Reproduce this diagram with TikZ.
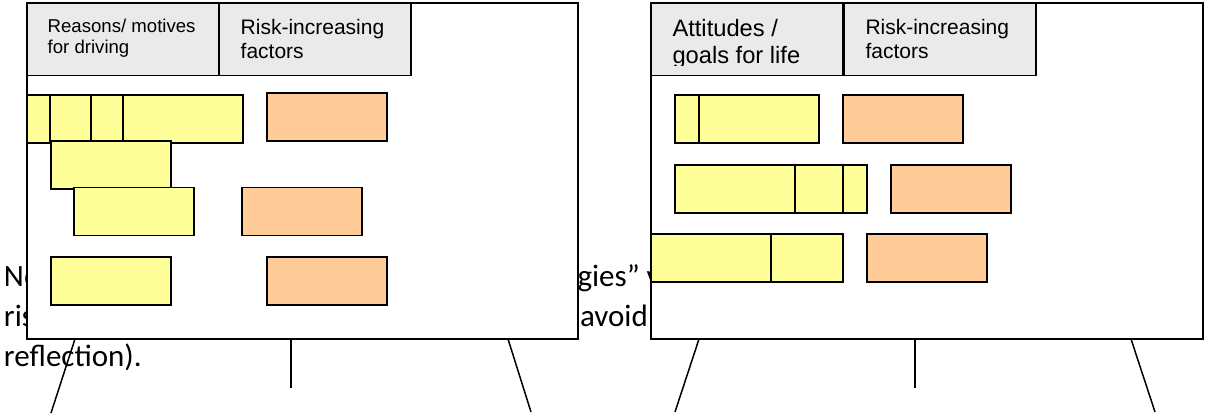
\documentclass[tikz,border=0pt]{standalone}
\usepackage{fontspec}
\setmainfont{Liberation Sans}
\newfontfamily\bodyfont{Carlito}
\definecolor{notefill}{HTML}{FFFF99}
\definecolor{riskfill}{HTML}{FFCC99}
\definecolor{headfill}{HTML}{EAEAEA}
\begin{document}
\begin{tikzpicture}[x=1pt,y=-1pt,
  frame/.style={draw=black,line width=1.7pt,inner sep=0pt,outer sep=0pt,anchor=north west},
  board/.style={frame,fill=white},
  headcell/.style={frame,fill=headfill,minimum width=192pt,minimum height=72.2pt},
  card/.style={frame,minimum width=120pt,minimum height=48pt},
  note/.style={card,fill=notefill},
  risk/.style={card,fill=riskfill},
  leg/.style={draw=black,line width=1.5pt},
  lbl/.style={anchor=base west,inner sep=0pt,outer sep=0pt},
  headsmall/.style={lbl,font=\fontsize{18.6}{21}\selectfont},
  headmid/.style={lbl,font=\fontsize{21}{23}\selectfont},
  headbig/.style={lbl,font=\fontsize{23.7}{27}\selectfont},
  body/.style={lbl,font=\bodyfont\fontsize{31}{38}\selectfont}]
\useasboundingbox (0,0) rectangle (1205,414);

% running text of the page behind the boards
\node[body] (t1a) at (4,286.7) {No};
\node[body] (t1b) at (577.5,286.7) {gies” v};
\node[body] (t2a) at (4,326.7) {risk};
\node[body] (t2b) at (580,326.7) {avoid};
\node[body] (t3) at (4,366.7) {reflection).};

% ---------------- left board ----------------
\node[board,minimum width=551pt,minimum height=335.7pt] (lb) at (27,3.3) {};
\node[headcell] (lh1) at (27,3.3) {};
\node[headcell] (lh2) at (218.7,3.3) {};
\node[headsmall] (lh1a) at (47.7,32.3) {Reasons/ motives};
\node[headsmall] (lh1b) at (47.7,53.3) {for driving};
\node[headmid] (lh2a) at (240.7,35) {Risk-increasing};
\node[headmid] (lh2b) at (240.7,58.3) {factors};

% first row of notes, overlapping
\node[note] (ln1a) at (27,94.7) {};
\node[note] (ln1b) at (50.3,94.7) {};
\node[note] (ln1c) at (90.7,94.7) {};
\node[note] (ln1d) at (122.7,94.7) {};
\node[risk] (lr1) at (266.7,93.3) {};
% further rows
\node[note] (ln2) at (50.7,141) {};
\node[note] (ln3) at (74.3,187.5) {};
\node[risk] (lr2) at (242.3,187.5) {};
\node[note] (ln4) at (50.7,257) {};
\node[risk] (lr3) at (266.7,257) {};

% legs
\coordinate (lbA) at (75,339);   \coordinate (lfA) at (51,413);
\coordinate (lbB) at (291,339);  \coordinate (lfB) at (291,388);
\coordinate (lbC) at (508,339);  \coordinate (lfC) at (531,412);
\draw[leg] (lbA) -- (lfA);
\draw[leg] (lbB) -- (lfB);
\draw[leg] (lbC) -- (lfC);

% ---------------- right board ----------------
\node[board,minimum width=552pt,minimum height=335.7pt] (rb) at (651,3.3) {};
\node[headcell] (rh1) at (651,3.3) {};
\node[headcell] (rh2) at (843.8,3.3) {};
\node[headbig] (rh1a) at (672.5,36.7) {Attitudes /};
\begin{scope}
  \clip (651,3.3) rectangle (843.8,65.5);
  \node[headbig] (rh1b) at (672.5,63.5) {goals for life};
\end{scope}
\node[headmid] (rh2a) at (865.5,34.3) {Risk-increasing};
\node[headmid] (rh2b) at (865.5,58.3) {factors};

\node[note] (rn1a) at (674.7,94.7) {};
\node[note] (rn1b) at (699.3,94.7) {};
\node[risk] (rr1) at (842.7,94.7) {};

\node[note] (rn2c) at (747,165.3) {};
\node[note] (rn2b) at (723,165.3) {};
\node[note] (rn2a) at (674.7,165.3) {};
\node[risk] (rr2) at (890.7,165.3) {};

\node[note] (rn3b) at (723,234) {};
\node[note] (rn3a) at (651,234) {};
\node[risk] (rr3) at (866.7,234) {};

\coordinate (rbA) at (699,339);   \coordinate (rfA) at (675,412);
\coordinate (rbB) at (915,339);   \coordinate (rfB) at (915,388);
\coordinate (rbC) at (1131,339);  \coordinate (rfC) at (1155,412);
\draw[leg] (rbA) -- (rfA);
\draw[leg] (rbB) -- (rfB);
\draw[leg] (rbC) -- (rfC);
\end{tikzpicture}
\end{document}
